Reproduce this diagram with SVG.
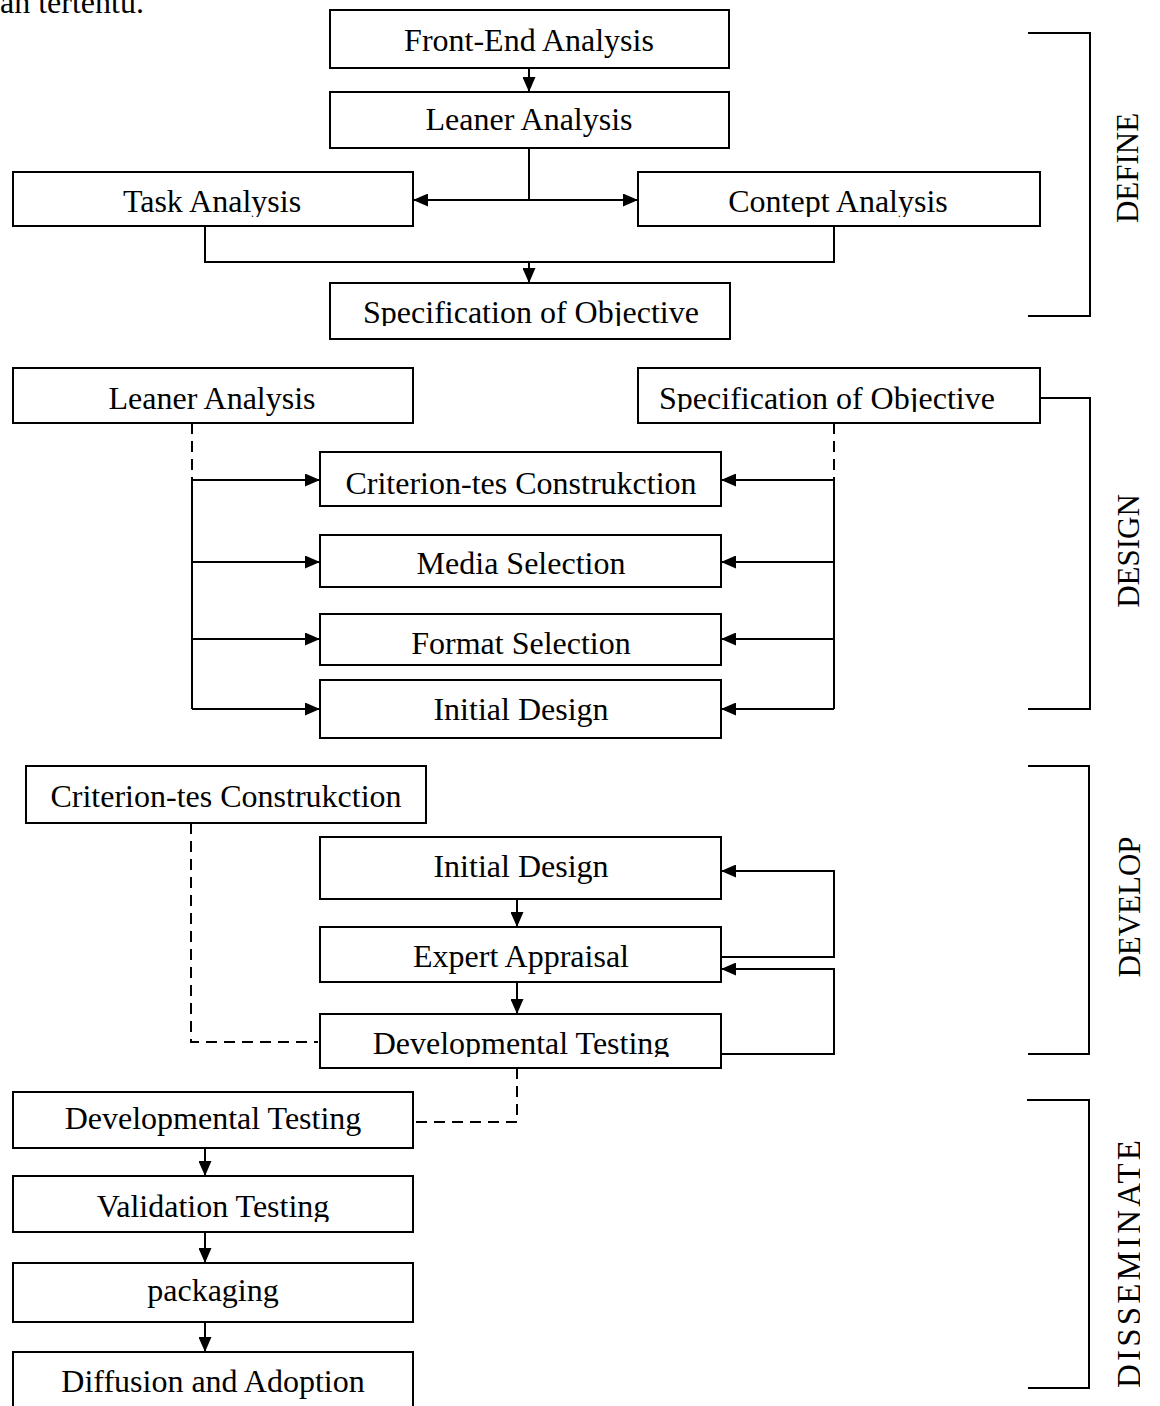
<svg xmlns="http://www.w3.org/2000/svg" width="1160" height="1406" viewBox="0 0 1160 1406">
<style>
text{font-family:"Liberation Serif","Times New Roman",serif;font-size:32px;fill:#000;text-anchor:middle}
.box{fill:#fff;stroke:#000;stroke-width:2}
.ln{fill:none;stroke:#000;stroke-width:2}
.arr{fill:none;stroke:#000;stroke-width:2;marker-end:url(#ah)}
.dash{fill:none;stroke:#000;stroke-width:2;stroke-dasharray:11 7}
.lbl{font-size:31px}
</style>
<defs>
<marker id="ah" markerUnits="userSpaceOnUse" markerWidth="15" markerHeight="13" refX="15" refY="6.5" orient="auto">
<path d="M0,0 L15,6.5 L0,13 z" fill="#000"/>
</marker>
<clipPath id="cSpec1"><rect x="330" y="283" width="400" height="43"/></clipPath>
<clipPath id="cSpec2"><rect x="638" y="368" width="402" height="44"/></clipPath>
<clipPath id="cTask"><rect x="13" y="172" width="400" height="45"/></clipPath>
<clipPath id="cCont"><rect x="638" y="172" width="402" height="45"/></clipPath>
<clipPath id="cDev1"><rect x="320" y="1014" width="401" height="43"/></clipPath>
<clipPath id="cVal"><rect x="13" y="1176" width="400" height="46"/></clipPath>
<clipPath id="cDiss"><rect x="1100" y="1090" width="40" height="316"/></clipPath>
</defs>

<text x="0" y="13" style="text-anchor:start">an tertentu.</text>

<g id="connectors">
<!-- DEFINE -->
<line class="arr" x1="529" y1="68" x2="529" y2="92"/>
<line class="ln" x1="529" y1="148" x2="529" y2="200"/>
<line class="arr" x1="529" y1="200" x2="413" y2="200"/>
<line class="arr" x1="529" y1="200" x2="638" y2="200"/>
<path class="ln" d="M205,226 V262 H834 V226"/>
<line class="arr" x1="529" y1="262" x2="529" y2="283"/>
<!-- DESIGN -->
<line class="dash" x1="192" y1="423" x2="192" y2="480"/>
<line class="ln" x1="192" y1="480" x2="192" y2="709"/>
<line class="arr" x1="192" y1="480" x2="320" y2="480"/>
<line class="arr" x1="192" y1="562" x2="320" y2="562"/>
<line class="arr" x1="192" y1="639" x2="320" y2="639"/>
<line class="arr" x1="192" y1="709" x2="320" y2="709"/>
<line class="dash" x1="834" y1="423" x2="834" y2="480"/>
<line class="ln" x1="834" y1="480" x2="834" y2="709"/>
<line class="arr" x1="834" y1="480" x2="721" y2="480"/>
<line class="arr" x1="834" y1="562" x2="721" y2="562"/>
<line class="arr" x1="834" y1="639" x2="721" y2="639"/>
<line class="arr" x1="834" y1="709" x2="721" y2="709"/>
<!-- DEVELOP -->
<path class="dash" d="M191,823 V1042 H318"/>
<line class="arr" x1="517" y1="899" x2="517" y2="927"/>
<line class="arr" x1="517" y1="982" x2="517" y2="1014"/>
<path class="arr" d="M721,957 H834 V871 H721"/>
<path class="arr" d="M721,1054 H834 V969 H721"/>
<path class="dash" d="M517,1068 V1122 H413"/>
<!-- DISSEMINATE -->
<line class="arr" x1="205" y1="1148" x2="205" y2="1176"/>
<line class="arr" x1="205" y1="1232" x2="205" y2="1263"/>
<line class="arr" x1="205" y1="1322" x2="205" y2="1352"/>
</g>

<g id="brackets">
<path class="ln" d="M1028,33 H1090 V316 H1028"/>
<path class="ln" d="M1040,398 H1090 V709 H1028"/>
<path class="ln" d="M1028,766 H1089 V1054 H1028"/>
<path class="ln" d="M1027,1100 H1089 V1388 H1028"/>
<text class="lbl" transform="translate(1138,168) rotate(-90)">DEFINE</text>
<text class="lbl" transform="translate(1139,551) rotate(-90)">DESIGN</text>
<text class="lbl" transform="translate(1140,907) rotate(-90)">DEVELOP</text>
<g clip-path="url(#cDiss)"><text style="font-size:33px" transform="translate(1140,1264) rotate(-90)" textLength="248" lengthAdjust="spacing">DISSEMINATE</text></g>
</g>

<g id="n-frontend"><rect class="box" x="330" y="10" width="399" height="58"/><text x="529" y="51">Front-End Analysis</text></g>
<g id="n-leaner1"><rect class="box" x="330" y="92" width="399" height="56"/><text x="529" y="130">Leaner Analysis</text></g>
<g id="n-task"><rect class="box" x="13" y="172" width="400" height="54"/><text x="212" y="212" clip-path="url(#cTask)">Task Analysis</text></g>
<g id="n-contept"><rect class="box" x="638" y="172" width="402" height="54"/><text x="838" y="212" clip-path="url(#cCont)">Contept Analysis</text></g>
<g id="n-spec1"><rect class="box" x="330" y="283" width="400" height="56"/><text x="531" y="323" clip-path="url(#cSpec1)">Specification of Objective</text></g>

<g id="n-leaner2"><rect class="box" x="13" y="368" width="400" height="55"/><text x="212" y="409">Leaner Analysis</text></g>
<g id="n-spec2"><rect class="box" x="638" y="368" width="402" height="55"/><text x="827" y="409" clip-path="url(#cSpec2)">Specification of Objective</text></g>
<g id="n-crit1"><rect class="box" x="320" y="452" width="401" height="54"/><text x="521" y="494">Criterion-tes Construkction</text></g>
<g id="n-media"><rect class="box" x="320" y="535" width="401" height="52"/><text x="521" y="574">Media Selection</text></g>
<g id="n-format"><rect class="box" x="320" y="614" width="401" height="51"/><text x="521" y="654">Format Selection</text></g>
<g id="n-init1"><rect class="box" x="320" y="680" width="401" height="58"/><text x="521" y="720">Initial Design</text></g>

<g id="n-crit2"><rect class="box" x="26" y="766" width="400" height="57"/><text x="226" y="807">Criterion-tes Construkction</text></g>
<g id="n-init2"><rect class="box" x="320" y="837" width="401" height="62"/><text x="521" y="877">Initial Design</text></g>
<g id="n-expert"><rect class="box" x="320" y="927" width="401" height="55"/><text x="521" y="967">Expert Appraisal</text></g>
<g id="n-dev1"><rect class="box" x="320" y="1014" width="401" height="54"/><text x="521" y="1054" clip-path="url(#cDev1)">Developmental Testing</text></g>

<g id="n-dev2"><rect class="box" x="13" y="1092" width="400" height="56"/><text x="213" y="1129">Developmental Testing</text></g>
<g id="n-valid"><rect class="box" x="13" y="1176" width="400" height="56"/><text x="213" y="1217" clip-path="url(#cVal)">Validation Testing</text></g>
<g id="n-pack"><rect class="box" x="13" y="1263" width="400" height="59"/><text x="213" y="1301">packaging</text></g>
<g id="n-diff"><rect class="box" x="13" y="1352" width="400" height="70"/><text x="213" y="1392">Diffusion and Adoption</text></g>
</svg>
